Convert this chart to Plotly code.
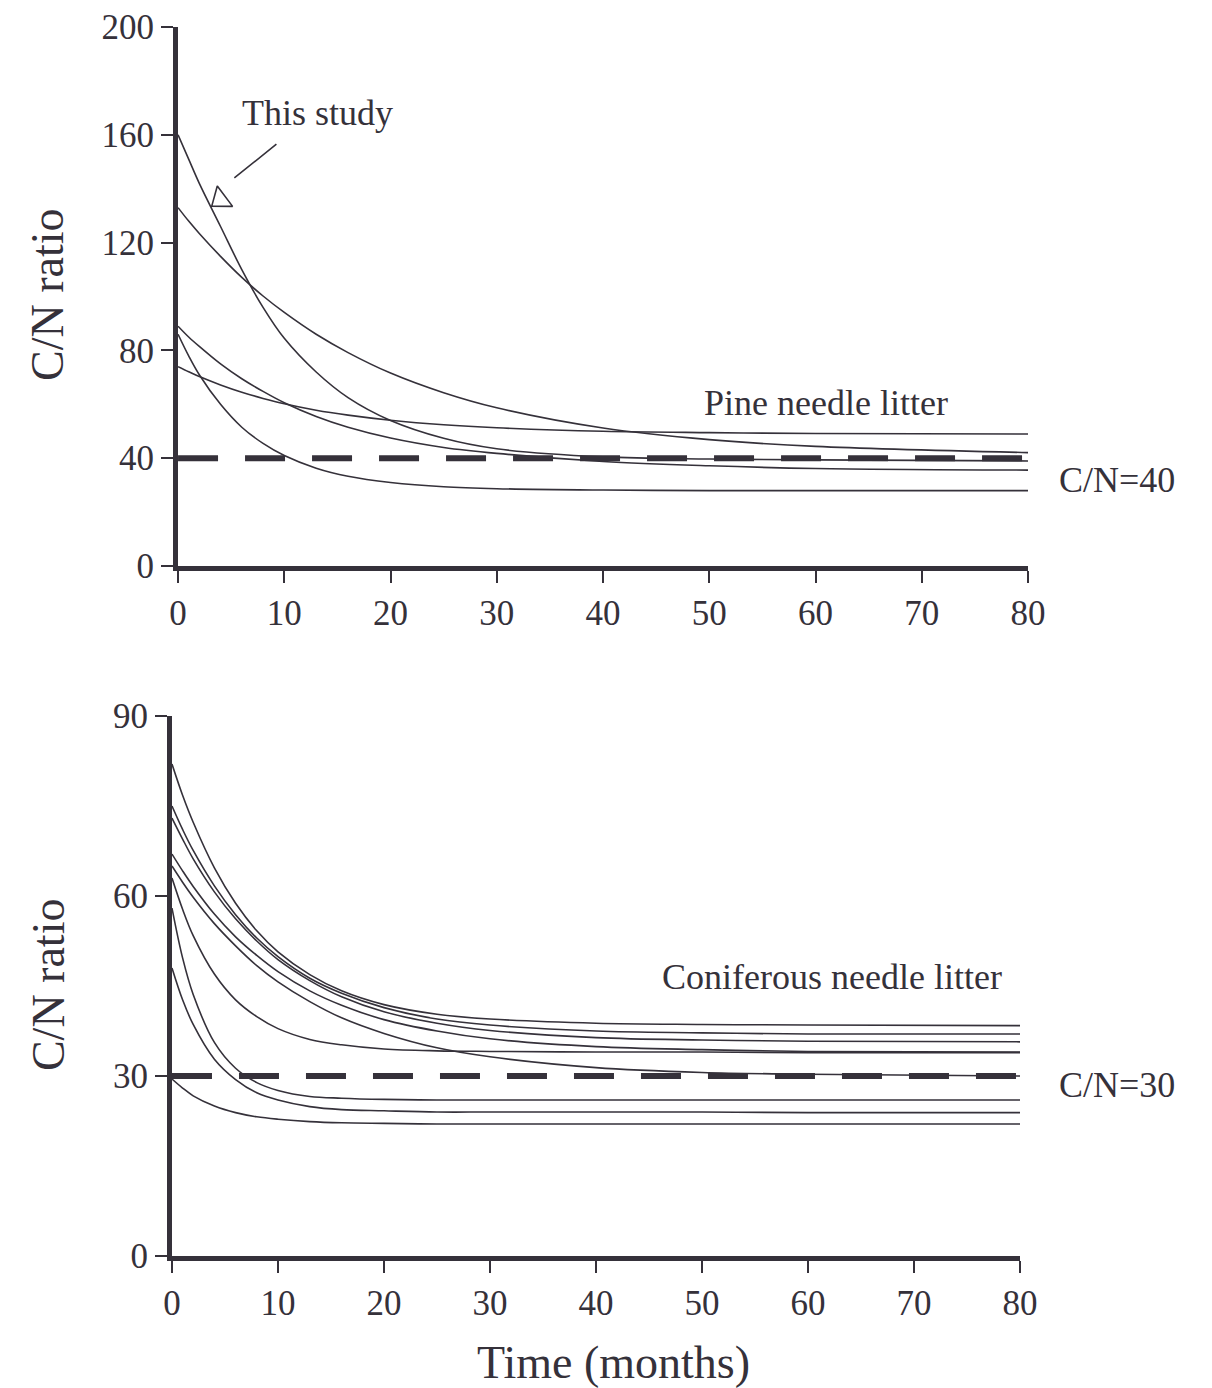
import plotly.graph_objects as go

# Time points (months)
T = [0, 1, 2, 4, 6, 8, 10, 13, 16, 20, 25, 30, 40, 50, 60, 80]

# Pine needle litter C/N curves
PINE_THIS_STUDY = [160, 151, 142, 126, 110, 96, 84.5, 72, 62.5, 54, 47.4, 43.5, 40.5, 39.7, 39.4, 39]
PINE_B = [133, 128.0, 123.4, 114.9, 107.1, 100.2, 94.1, 86.0, 79.2, 71.6, 64.3, 58.7, 51.2, 46.9, 44.4, 42.1]
PINE_C = [89, 85, 81.5, 75, 69.5, 64.8, 60.6, 55.5, 51.5, 47.5, 44, 41.8, 38.8, 37.2, 36.2, 35.6]
PINE_D = [86, 78, 71, 60, 51.5, 45.5, 41, 36.3, 33.3, 31, 29.4, 28.7, 28.2, 28, 28, 28]
PINE_E = [74, 72.1, 70.3, 67.2, 64.5, 62.2, 60.2, 57.8, 56.0, 54.1, 52.4, 51.3, 50.0, 49.5, 49.2, 49.0]

# Coniferous needle litter C/N curves
CON_1 = [82, 76.8, 72.3, 64.7, 58.8, 54.2, 50.7, 46.9, 44.2, 41.9, 40.3, 39.5, 38.8, 38.6, 38.5, 38.4]
CON_2 = [75, 71.1, 67.6, 61.7, 56.9, 53.0, 49.9, 46.3, 43.8, 41.4, 39.5, 38.5, 37.5, 37.2, 37.0, 37.0]
CON_3 = [73, 69.5, 66.2, 60.7, 56.2, 52.5, 49.4, 45.9, 43.2, 40.7, 38.8, 37.6, 36.4, 36.0, 35.8, 35.7]
CON_4 = [67, 64.2, 61.6, 57.0, 53.2, 50.1, 47.4, 44.2, 41.8, 39.4, 37.5, 36.2, 34.9, 34.4, 34.1, 34.0]
CON_5 = [65, 62.3, 59.8, 55.4, 51.7, 48.4, 45.7, 42.4, 39.7, 37.1, 34.7, 33.2, 31.4, 30.6, 30.3, 30.0]
CON_6 = [63, 57.8, 53.4, 47.0, 42.7, 39.9, 37.9, 36.1, 35.2, 34.5, 34.2, 34.1, 34.0, 34.0, 33.9, 33.9]
CON_7 = [58, 49.7, 43.6, 35.6, 31.3, 28.9, 27.6, 26.6, 26.3, 26.1, 26.0, 26.0, 26.0, 26.0, 26.0, 26.0]
CON_8 = [48, 42.7, 38.6, 32.8, 29.4, 27.2, 26.0, 24.9, 24.4, 24.2, 24.0, 24.0, 24.0, 24.0, 23.9, 23.9]
CON_9 = [29.5, 28.0, 26.7, 25.0, 23.9, 23.2, 22.8, 22.4, 22.2, 22.1, 22.0, 22.0, 22.0, 22.0, 22.0, 22.0]

# Reference C/N thresholds
REF_X = [0, 80]
PINE_REF = [40, 40]
CON_REF = [30, 30]

X_TICKS = [0, 10, 20, 30, 40, 50, 60, 70, 80]
PINE_Y_TICKS = [0, 40, 80, 120, 160, 200]
CON_Y_TICKS = [0, 30, 60, 90]

INK = "#35313a"
FONT = "Liberation Serif"

fig = go.Figure()

for s in [PINE_THIS_STUDY, PINE_B, PINE_C, PINE_D, PINE_E]:
    fig.add_trace(go.Scatter(x=T, y=s, mode="lines", line=dict(color=INK, width=1.6, shape="spline"),
                             xaxis="x", yaxis="y", showlegend=False, hoverinfo="skip"))
fig.add_trace(go.Scatter(x=REF_X, y=PINE_REF, mode="lines",
                         line=dict(color=INK, width=6, dash="40px,27px"),
                         xaxis="x", yaxis="y", showlegend=False, hoverinfo="skip"))

for s in [CON_1, CON_2, CON_3, CON_4, CON_5, CON_6, CON_7, CON_8, CON_9]:
    fig.add_trace(go.Scatter(x=T, y=s, mode="lines", line=dict(color=INK, width=1.6, shape="spline"),
                             xaxis="x2", yaxis="y2", showlegend=False, hoverinfo="skip"))
fig.add_trace(go.Scatter(x=REF_X, y=CON_REF, mode="lines",
                         line=dict(color=INK, width=6, dash="40px,27px"),
                         xaxis="x2", yaxis="y2", showlegend=False, hoverinfo="skip"))

# open arrow head pointing at the "This study" curve
fig.add_trace(go.Scatter(x=[4.0], y=[136], mode="markers",
                         marker=dict(symbol="triangle-up-open", size=22, angle=233,
                                     color=INK, line=dict(color=INK, width=1.6)),
                         xaxis="x", yaxis="y", showlegend=False, hoverinfo="skip"))

axis_common = dict(showgrid=False, zeroline=False, showline=True, linewidth=5, linecolor=INK,
                   ticks="outside", ticklen=12, tickwidth=2, tickcolor=INK, automargin=False,
                   tickfont=dict(family=FONT, size=35, color=INK))

fig.update_layout(
    width=1212, height=1388,
    margin=dict(l=0, r=0, t=0, b=0, pad=0, autoexpand=False),
    paper_bgcolor="white", plot_bgcolor="white",
    font=dict(family=FONT, color=INK),
    xaxis=dict(domain=[0.1469, 0.8482], range=[0, 80], tickvals=X_TICKS, anchor="y", **axis_common),
    yaxis=dict(domain=[0.5922, 0.9805], range=[0, 200], tickvals=PINE_Y_TICKS, anchor="x", **axis_common),
    xaxis2=dict(domain=[0.1419, 0.8416], range=[0, 80], tickvals=X_TICKS, anchor="y2", **axis_common),
    yaxis2=dict(domain=[0.0951, 0.4841], range=[0, 90], tickvals=CON_Y_TICKS, anchor="x2", **axis_common),
)

ann_font = dict(family=FONT, size=36, color=INK)
C = dict(xanchor="center", yanchor="middle", showarrow=False)
fig.add_annotation(x=13.1, y=168, xref="x", yref="y", text="This study", font=ann_font, **C)
fig.add_annotation(x=5.3, y=144, xref="x", yref="y", ax=9.4, ay=157, axref="x", ayref="y",
                   text="", showarrow=True, arrowhead=0, arrowwidth=1.6, arrowcolor=INK)
fig.add_annotation(x=61, y=60.5, xref="x", yref="y", text="Pine needle litter", font=ann_font, **C)
fig.add_annotation(x=0.9216, y=0.6542, xref="paper", yref="paper", text="C/N=40", font=ann_font, **C)
fig.add_annotation(x=62.3, y=46.5, xref="x2", yref="y2", text="Coniferous needle litter", font=ann_font, **C)
fig.add_annotation(x=0.9216, y=0.2183, xref="paper", yref="paper", text="C/N=30", font=ann_font, **C)

title_font = dict(family=FONT, size=46, color=INK)
fig.add_annotation(x=0.0396, y=0.7875, xref="paper", yref="paper", text="C/N ratio", textangle=-90,
                   font=title_font, **C)
fig.add_annotation(x=0.0396, y=0.2903, xref="paper", yref="paper", text="C/N ratio", textangle=-90,
                   font=title_font, **C)
fig.add_annotation(x=0.5066, y=0.0187, xref="paper", yref="paper", text="Time (months)",
                   font=title_font, **C)

fig.write_html("out.html")
